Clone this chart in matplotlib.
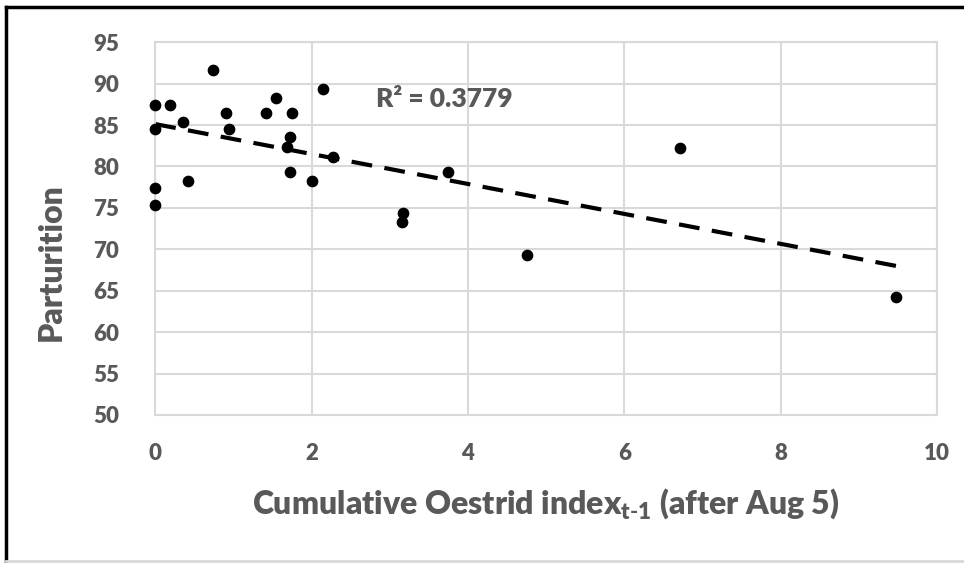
import numpy as np
import matplotlib.pyplot as plt
from matplotlib.lines import Line2D

# =========================
# DATA
# =========================
oestrid_index = [0.0, 0.0, 0.0, 0.0, 0.19, 0.36, 0.42, 0.74, 0.91, 0.95,
                 1.42, 1.55, 1.75, 1.73, 1.68, 1.73, 2.0, 2.14, 2.28,
                 3.17, 3.16, 3.75, 4.75, 6.71, 9.48]
parturition = [87.4, 84.5, 77.4, 75.4, 87.4, 85.4, 78.3, 91.6, 86.4, 84.5,
               86.4, 88.3, 86.4, 83.5, 82.3, 79.3, 78.3, 89.3, 81.2,
               74.4, 73.3, 79.3, 69.3, 82.2, 64.2]
r2_label = "R² = 0.3779"
x_ticks = [0, 2, 4, 6, 8, 10]
y_ticks = [50, 55, 60, 65, 70, 75, 80, 85, 90, 95]

TEXT = "#595959"
GRID = "#D9D9D9"

plt.rcParams["font.family"] = ["Lato", "DejaVu Sans"]
plt.rcParams["mathtext.fontset"] = "custom"
plt.rcParams["mathtext.rm"] = "Lato:bold"

fig = plt.figure(figsize=(9.64, 5.63), dpi=100)
ax = fig.add_axes([0.161, 0.263, 0.811, 0.662])

ax.scatter(oestrid_index, parturition, s=55, color="black", zorder=3,
           clip_on=False)

# linear trend line (Excel style)
slope, intercept = np.polyfit(oestrid_index, parturition, 1)
xt = np.array([0, max(oestrid_index)])
ax.plot(xt, slope * xt + intercept, color="black", linewidth=3,
        linestyle=(0, (5, 3)), zorder=2)

ax.text(2.82, 88.2, r2_label, fontsize=19, fontweight="heavy", color=TEXT,
        va="center", ha="left")

ax.set_xlim(0, 10)
ax.set_ylim(50, 95)
ax.set_xticks(x_ticks)
ax.set_yticks(y_ticks)
ax.grid(True, color=GRID, linewidth=1.5)
ax.set_axisbelow(True)
for s in ax.spines.values():
    s.set_color(GRID)
    s.set_linewidth(1.5)
ax.tick_params(length=0, labelsize=16, colors=TEXT)
for lab in ax.get_xticklabels() + ax.get_yticklabels():
    lab.set_fontweight("heavy")
ax.tick_params(axis="x", pad=20)
ax.tick_params(axis="y", pad=26)

ax.set_xlabel("Cumulative Oestrid index$_{\\mathregular{t\\text{-}1}}$ (after Aug 5)",
              fontsize=23, fontweight="heavy", color=TEXT)
ax.xaxis.set_label_coords(0.5, -0.19)
ax.set_ylabel("Parturition", fontsize=23, fontweight="heavy", color=TEXT)
ax.yaxis.set_label_coords(-0.114, 0.41)

# outer frame
fig.add_artist(Line2D([0.006, 0.006], [0, 0.988], color="black", lw=2.5,
                      transform=fig.transFigure))
fig.add_artist(Line2D([0.006, 1], [0.988, 0.988], color="black", lw=2.5,
                      transform=fig.transFigure))
fig.add_artist(Line2D([0.006, 1], [0.004, 0.004], color="#D9D9D9", lw=2,
                      transform=fig.transFigure))

fig.savefig("out.png", dpi=100, facecolor="white")
